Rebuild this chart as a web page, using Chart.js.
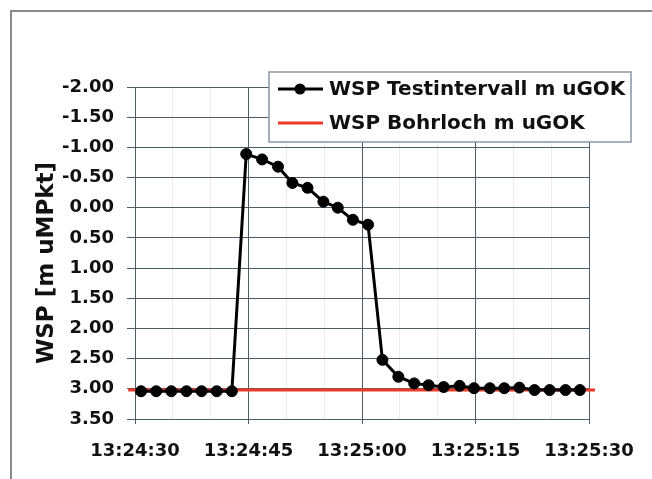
<!DOCTYPE html>
<html>
<head>
<meta charset="utf-8">
<style>
  html, body { margin: 0; padding: 0; background: #fff; }
  #frame { position: absolute; left: 10px; top: 10px; width: 700px; height: 520px; border: 2px solid #8a8a8a; }
  #wrap { position: absolute; left: 0; top: 0; width: 652px; height: 479px; }
</style>
</head>
<body>
<div id="frame"></div>
<div id="wrap">
  <canvas id="myChart" width="652" height="479"></canvas>
</div>

<script src="https://cdn.jsdelivr.net/npm/chart.js"></script>

<script>
  // seconds after 13:24:30
  const startSec = 13 * 3600 + 24 * 60 + 30;

  const testTimes = [0.8, 2.8, 4.8, 6.8, 8.8, 10.8, 12.8, 14.7, 16.8, 18.9, 20.8, 22.8, 24.9, 26.8, 28.8, 30.8,
                     32.7, 34.8, 36.9, 38.8, 40.8, 42.9, 44.8, 46.9, 48.8, 50.8, 52.8, 54.8, 56.9, 58.8];
  const testValues = [3.04, 3.04, 3.04, 3.04, 3.04, 3.04, 3.04, -0.89, -0.80, -0.68, -0.41, -0.33, -0.10, 0.00, 0.20, 0.28,
                      2.52, 2.80, 2.91, 2.94, 2.97, 2.95, 2.99, 2.99, 2.99, 2.98, 3.02, 3.02, 3.02, 3.02];

  const boreTimes = [-0.9, 60.8];
  const boreValues = [3.02, 3.02];

  const labelTest = 'WSP Testintervall m uGOK';
  const labelBore = 'WSP Bohrloch m uGOK';
  const yTitle = 'WSP [m uMPkt]';

  function fmtTime(s) {
    let t = Math.round(startSec + s);
    let h = Math.floor(t / 3600), m = Math.floor((t % 3600) / 60), sec = t % 60;
    return h + ':' + String(m).padStart(2, '0') + ':' + String(sec).padStart(2, '0');
  }
</script>

<script>
  const FONT = '"DejaVu Sans", sans-serif';
  const gridDark = '#4f5b66';
  const gridLight = '#ececec';

  // legend box + rotated y title, placed like the original
  const overlay = {
    id: 'overlay',
    afterDraw(chart) {
      const c = chart.ctx;
      const ds = chart.data.datasets;
      c.save();
      c.fillStyle = '#fff';
      c.fillRect(269, 72, 362, 70);
      c.strokeStyle = '#8796a4';
      c.lineWidth = 1.5;
      c.strokeRect(269, 72, 362, 70);

      c.font = 'bold 20px ' + FONT;
      c.textBaseline = 'middle';
      c.fillStyle = '#111';
      // row 1
      c.strokeStyle = ds[0].borderColor;
      c.lineWidth = 3;
      c.beginPath(); c.moveTo(278, 89); c.lineTo(323, 89); c.stroke();
      c.beginPath(); c.arc(300, 89, 5.5, 0, Math.PI * 2); c.fillStyle = '#000'; c.fill();
      c.fillStyle = '#111';
      c.fillText(ds[0].label, 329, 90);
      // row 2
      c.strokeStyle = ds[1].borderColor;
      c.beginPath(); c.moveTo(278, 123); c.lineTo(323, 123); c.stroke();
      c.fillText(ds[1].label, 329, 124);

      // y axis title
      c.translate(47, 263);
      c.rotate(-Math.PI / 2);
      c.textAlign = 'center';
      c.font = 'bold 23px ' + FONT;
      c.fillText(yTitle, 0, 0);
      c.restore();
    }
  };

  const ctx = document.getElementById('myChart');

  new Chart(ctx, {
    type: 'line',
    data: {
      datasets: [
        {
          label: labelTest,
          data: testTimes.map((t, i) => ({ x: t, y: testValues[i] })),
          borderColor: '#000',
          backgroundColor: '#000',
          borderWidth: 3,
          pointRadius: 5.5,
          pointHoverRadius: 5.5,
          pointBorderWidth: 1,
          tension: 0,
          order: 0
        },
        {
          label: labelBore,
          data: boreTimes.map((t, i) => ({ x: t, y: boreValues[i] })),
          borderColor: '#ea3b28',
          backgroundColor: '#ea3b28',
          borderWidth: 3,
          pointRadius: 0,
          tension: 0,
          clip: false,
          order: 1
        }
      ]
    },
    options: {
      responsive: false,
      animation: false,
      layout: { padding: { left: 0, top: 87, right: 63, bottom: 0 } },
      plugins: {
        legend: { display: false },
        tooltip: { enabled: false }
      },
      scales: {
        x: {
          type: 'linear',
          min: 0,
          max: 60,
          afterFit: (s) => { s.height = 60; },
          ticks: {
            stepSize: 5,
            autoSkip: false,
            maxRotation: 0,
            padding: 17,
            color: '#111',
            font: { family: FONT, size: 18, weight: 'bold' },
            callback: (v) => (v % 15 === 0 ? fmtTime(v) : '')
          },
          grid: {
            color: (c) => (c.tick && c.tick.value % 15 === 0 ? gridDark : gridLight),
            tickColor: (c) => (c.tick && c.tick.value % 15 === 0 ? gridDark : 'rgba(0,0,0,0)'),
            tickLength: 5,
            lineWidth: 1
          },
          border: { color: gridDark }
        },
        y: {
          min: -2,
          max: 3.5,
          reverse: true,
          afterFit: (s) => { s.width = 135; },
          ticks: {
            stepSize: 0.5,
            padding: 13,
            color: '#111',
            font: { family: FONT, size: 18, weight: 'bold' },
            callback: (v) => v.toFixed(2)
          },
          grid: { color: gridDark, tickLength: 8, lineWidth: 1 },
          border: { color: gridDark }
        }
      }
    },
    plugins: [overlay]
  });
</script>
</body>
</html>
